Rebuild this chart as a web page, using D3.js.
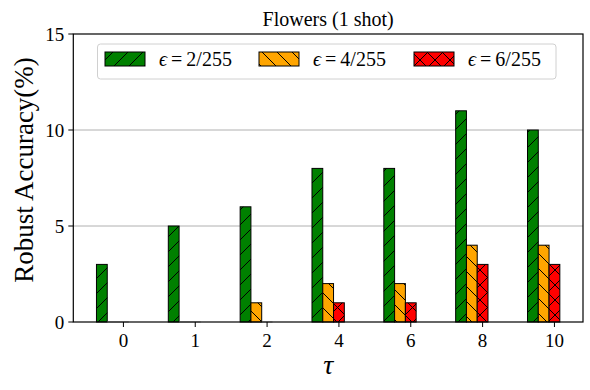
<!DOCTYPE html>
<html><head><meta charset="utf-8">
<script src="https://cdn.jsdelivr.net/npm/d3@7"></script>
<style>body{margin:0;background:#fff}svg{display:block}</style>
</head><body>
<script>
const categories = ["0","1","2","4","6","8","10"];
const seriesNames = ["2/255","4/255","6/255"];
const eps2 = [3,5,6,8,8,11,10];
const eps4 = [0,0,1,2,2,4,4];
const eps6 = [0,0,0,1,1,3,3];
const yTicks = [0,5,10,15];
const title = "Flowers (1 shot)";
const yLabel = "Robust Accuracy(%)";
const xLabel = "τ";

const series = [eps2, eps4, eps6];
const colors = ["#008000","#ffa500","#ff0000"];
const hatches = ["fwd","back","cross"];
const offsets = [-0.3,-0.15,0];
const bw = 0.15;

const W=590,H=390;
const L=73.3,R=583,T=34,B=322;
const font = "'Liberation Serif', 'DejaVu Serif', serif";

const svg = d3.select("body").append("svg").attr("width",W).attr("height",H);
const defs = svg.append("defs");
const P=15;
function pat(id, kinds){
  const p = defs.append("pattern").attr("id",id).attr("patternUnits","userSpaceOnUse")
    .attr("width",P).attr("height",P);
  kinds.forEach(k=>{
    const segs = k==="fwd" ? [[0,P,P,0],[-2,2,2,-2],[P-2,P+2,P+2,P-2]]
                           : [[0,0,P,P],[-2,P-2,2,P+2],[P-2,-2,P+2,2]];
    segs.forEach(s=>p.append("line").attr("x1",s[0]).attr("y1",s[1]).attr("x2",s[2]).attr("y2",s[3])
      .attr("stroke","#000").attr("stroke-width",1));
  });
}
pat("h-fwd",["fwd"]); pat("h-back",["back"]); pat("h-cross",["fwd","back"]);

const n = categories.length;
const xmin = -0.375, xmax = (n-1)+0.075, m = 0.05*(xmax-xmin);
const x = d3.scaleLinear().domain([xmin-m, xmax+m]).range([L,R]);
const y = d3.scaleLinear().domain([0,15]).range([B,T]);

// grid
svg.append("g").selectAll("line").data(yTicks.filter(t=>t>0&&t<15)).join("line")
  .attr("x1",L).attr("x2",R).attr("y1",d=>y(d)).attr("y2",d=>y(d))
  .attr("stroke","#b0b0b0").attr("stroke-width",1);

// bars
series.forEach((vals,si)=>{
  const g = svg.append("g");
  vals.forEach((v,i)=>{
    const x0 = x(i+offsets[si]-bw/2), x1 = x(i+offsets[si]+bw/2);
    if(v>0){
      g.append("rect").attr("x",x0).attr("y",y(v)).attr("width",x1-x0).attr("height",y(0)-y(v))
        .attr("fill",colors[si]);
      g.append("rect").attr("x",x0).attr("y",y(v)).attr("width",x1-x0).attr("height",y(0)-y(v))
        .attr("fill","url(#h-"+hatches[si]+")").attr("stroke","#000").attr("stroke-width",1);
    } else {
      g.append("line").attr("x1",x0).attr("x2",x1).attr("y1",y(0)).attr("y2",y(0))
        .attr("stroke","#bbb").attr("stroke-width",1.5);
    }
  });
});

// frame
svg.append("rect").attr("x",L).attr("y",T).attr("width",R-L).attr("height",B-T)
  .attr("fill","none").attr("stroke","#000").attr("stroke-width",1.2);

// x ticks
const xg = svg.append("g");
categories.forEach((c,i)=>{
  xg.append("line").attr("x1",x(i)).attr("x2",x(i)).attr("y1",B).attr("y2",B+5).attr("stroke","#000");
  xg.append("text").attr("x",x(i)).attr("y",B+25).attr("text-anchor","middle")
    .attr("font-family",font).attr("font-size",19).text(c);
});
// y ticks
const yg = svg.append("g");
yTicks.forEach(t=>{
  yg.append("line").attr("x1",L-5).attr("x2",L).attr("y1",y(t)).attr("y2",y(t)).attr("stroke","#000");
  yg.append("text").attr("x",L-9).attr("y",y(t)).attr("dy","0.35em").attr("text-anchor","end")
    .attr("font-family",font).attr("font-size",19).text(t);
});

svg.append("text").attr("x",(L+R)/2).attr("y",26).attr("text-anchor","middle")
  .attr("font-family",font).attr("font-size",20).text(title);
svg.append("text").attr("transform",`translate(33,170) rotate(-90)`).attr("text-anchor","middle")
  .attr("font-family",font).attr("font-size",27).text(yLabel);
svg.append("text").attr("x",(L+R)/2).attr("y",374).attr("text-anchor","middle")
  .attr("font-family",font).attr("font-style","italic").attr("font-size",28).text(xLabel);

// legend
const lg = svg.append("g");
lg.append("rect").attr("x",97.5).attr("y",44).attr("width",458.5).attr("height",35).attr("rx",3)
  .attr("fill","#fff").attr("fill-opacity",0.8).attr("stroke","#d0d0d0").attr("stroke-width",1);
const lx = [105,259,414];
seriesNames.forEach((s,si)=>{
  lg.append("rect").attr("x",lx[si]).attr("y",52).attr("width",40).attr("height",14).attr("fill",colors[si]);
  lg.append("rect").attr("x",lx[si]).attr("y",52).attr("width",40).attr("height",14)
    .attr("fill","url(#h-"+hatches[si]+")").attr("stroke","#000").attr("stroke-width",1);
  const t = lg.append("text").attr("x",lx[si]+54).attr("y",66).attr("font-family",font).attr("font-size",20)
    .attr("xml:space","preserve");
  t.append("tspan").attr("font-style","italic").text("ϵ");
  t.append("tspan").attr("dx",4).text("=");
  t.append("tspan").attr("dx",4).text(s);
});
</script>
</body></html>
